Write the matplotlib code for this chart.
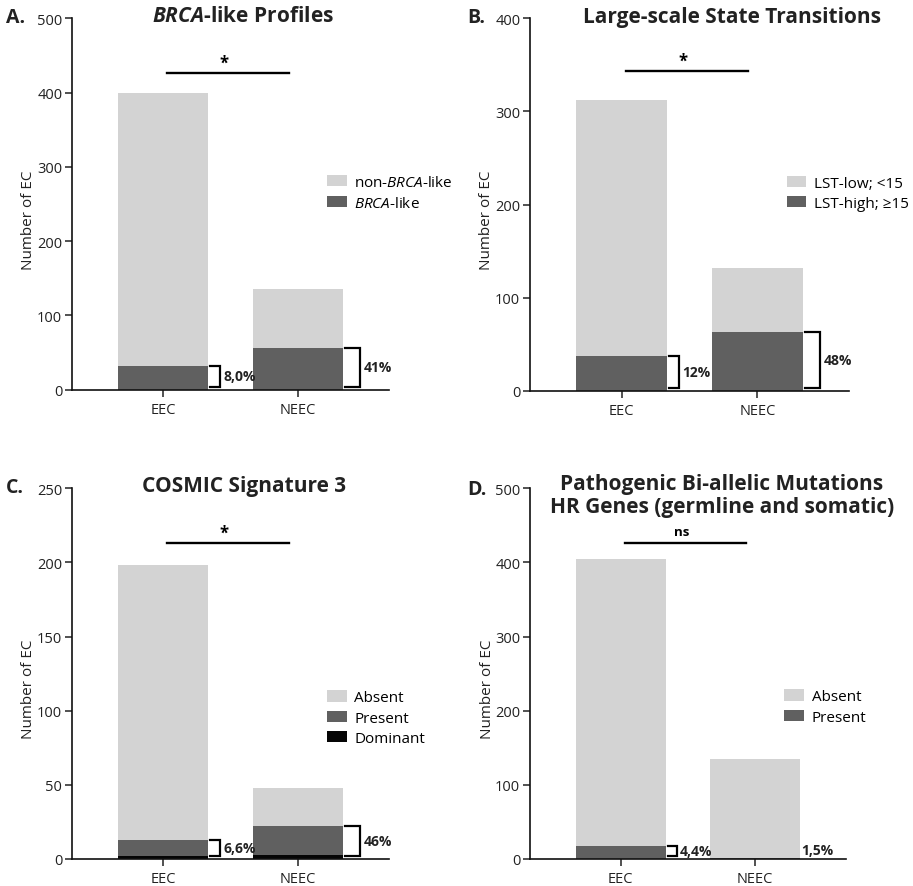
import numpy as np
import matplotlib
matplotlib.use("Agg")
import matplotlib.pyplot as plt
from matplotlib.patches import Patch

plt.rcParams['font.family'] = ['Open Sans', 'DejaVu Sans']
plt.rcParams['mathtext.fontset'] = 'custom'
plt.rcParams['mathtext.rm'] = 'Open Sans'
plt.rcParams['mathtext.it'] = 'Open Sans:italic'
plt.rcParams['mathtext.bf'] = 'Open Sans:bold'
plt.rcParams['mathtext.bfit'] = 'Open Sans:italic:bold'

W, H = 913, 887

# ---- data ----
groups = ['EEC', 'NEEC']

# A. BRCA-like profiles
brca_like = [32, 56]
non_brca_like = [367, 80]
brca_pct = ['8,0%', '41%']

# B. Large-scale state transitions
lst_high = [37, 63]
lst_low = [275, 69]
lst_pct = ['12%', '48%']

# C. COSMIC signature 3
sig3_dominant = [2, 3]
sig3_present = [11, 19]
sig3_absent = [185, 26]
sig3_pct = ['6,6%', '46%']

# D. bi-allelic HR gene mutations
hr_present = [18, 2]
hr_absent = [386, 133]
hr_pct = ['4,4%', '1,5%']

LIGHT = '#d3d3d3'
DARK = '#606060'
BLACK = '#050505'


def px(x, y):
    """pixel position (from top left) to figure fraction"""
    return x / W, 1 - y / H


def make_axes(fig, left, top, right, bottom):
    x0, y0 = px(left, bottom)
    ax = fig.add_axes([x0, y0, (right - left) / W, (bottom - top) / H])
    return ax


def draw_panel(ax, segments, colors, labels, ymax, step, pct, sig, sig_y,
               br_width, legend_y):
    xpos = np.arange(len(groups))
    bottom = np.zeros(len(groups))
    for seg, col, lab in zip(segments, colors, labels):
        ax.bar(xpos, seg, width=0.667, bottom=bottom, color=col,
               edgecolor='none', label=lab)
        bottom = bottom + np.array(seg)

    ax.set_xlim(-0.674, 1.674)
    ax.set_ylim(0, ymax)
    ax.set_yticks(np.arange(0, ymax + 1, step))
    ax.set_xticks(xpos)
    ax.set_xticklabels(groups, fontsize=10.5)
    ax.tick_params(axis='y', labelsize=10.5, width=1.1, length=5, pad=2,
                   colors='#222222')
    ax.tick_params(axis='x', width=1.1, length=5, colors='#222222')
    for s in ['top', 'right']:
        ax.spines[s].set_visible(False)
    for s in ['left', 'bottom']:
        ax.spines[s].set_linewidth(1.2)
        ax.spines[s].set_color('#111111')
    ax.set_ylabel('Number of EC', fontsize=11, color='#222222')
    ax.yaxis.set_label_coords(-0.112, 0.46)

    # brackets with percentages, up to the top of the highlighted stack
    marked = np.zeros(len(groups))
    for seg in segments[:-1]:
        marked = marked + np.array(seg)
    for i in range(len(groups)):
        x0 = i + 0.35
        x1 = x0 + br_width[i]
        y_lo = ymax * 0.008
        y_hi = marked[i]
        if br_width[i] > 0:
            ax.plot([x0, x1, x1, x0], [y_lo, y_lo, y_hi, y_hi], color='black',
                    lw=1.6, solid_joinstyle='miter', clip_on=False)
            ax.text(x1 + 0.025, (y_lo + y_hi) / 2, pct[i], fontsize=10,
                    fontweight='bold', va='center', ha='left', color='#222222')
        else:
            ax.text(i + 0.34, ymax * 0.025, pct[i], fontsize=10,
                    fontweight='bold', va='center', ha='left', color='#222222')

    # significance bar
    ax.plot([0.03, 0.93], [sig_y, sig_y], color='black', lw=1.7, clip_on=False)
    if sig == '*':
        ax.text(0.45, sig_y + ymax * 0.004, sig, fontsize=12, fontweight='bold',
                ha='center', va='bottom')
    else:
        ax.text(0.45, sig_y + ymax * 0.014, sig, fontsize=9.5, fontweight='bold',
                ha='center', va='bottom')

    handles = [Patch(facecolor=c, edgecolor='none', label=l)
               for c, l in zip(colors, labels)][::-1]
    ax.legend(handles=handles, loc='center left', bbox_to_anchor=(0.785, legend_y),
              frameon=False, fontsize=11, handlelength=1.3, handleheight=0.75,
              handletextpad=0.5, labelspacing=0.35, borderaxespad=0)


fig = plt.figure(figsize=(W / 100, H / 100), dpi=100)

# A
axA = make_axes(fig, 72, 19.3, 389, 390.7)
draw_panel(axA, [brca_like, non_brca_like], [DARK, LIGHT],
           ['$\\mathit{BRCA}$-like', 'non-$\\mathit{BRCA}$-like'],
           500, 100, brca_pct, '*', 426, [0.075, 0.11], 0.53)

# B
axB = make_axes(fig, 530, 19.3, 849, 391.7)
draw_panel(axB, [lst_high, lst_low], [DARK, LIGHT],
           ['LST-high; ≥15', 'LST-low; <15'],
           400, 100, lst_pct, '*', 343, [0.075, 0.11], 0.53)

# C
axC = make_axes(fig, 72, 489.3, 389, 860)
draw_panel(axC, [sig3_dominant, sig3_present, sig3_absent], [BLACK, DARK, LIGHT],
           ['Dominant', 'Present', 'Absent'],
           250, 50, sig3_pct, '*', 213, [0.075, 0.11], 0.38)

# D
axD = make_axes(fig, 530, 489.3, 846, 860)
draw_panel(axD, [hr_present, hr_absent], [DARK, LIGHT],
           ['Present', 'Absent'],
           500, 100, hr_pct, 'ns', 426, [0.065, 0], 0.41)

# titles and panel letters
title_kw = dict(fontsize=15, fontweight='bold', ha='center', va='center', color='#222222')
fig.text(*px(243, 17), '$\\mathbfit{BRCA}$-like Profiles', **title_kw)
fig.text(*px(732, 17), 'Large-scale State Transitions', **title_kw)
fig.text(*px(244, 487), 'COSMIC Signature 3', **title_kw)
fig.text(*px(722, 496), 'Pathogenic Bi-allelic Mutations\nHR Genes (germline and somatic)',
         linespacing=1.15, **title_kw)

letter_kw = dict(fontsize=14, fontweight='bold', ha='left', va='center', color='#222222')
fig.text(*px(6, 18), 'A.', **letter_kw)
fig.text(*px(467, 18), 'B.', **letter_kw)
fig.text(*px(6, 488), 'C.', **letter_kw)
fig.text(*px(467, 490), 'D.', **letter_kw)

fig.savefig('out.png', dpi=100)
